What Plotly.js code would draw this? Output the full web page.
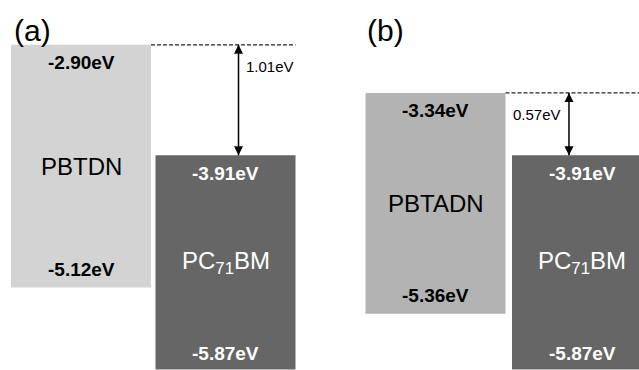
<!DOCTYPE html>
<html>
<head>
<meta charset="utf-8">
<script src="https://cdn.plot.ly/plotly-3.0.1.min.js"></script>
<style>html,body{margin:0;padding:0;background:#fff;}#chart{width:639px;height:370px;}</style>
</head>
<body>
<div id="chart"></div>
<script>
// ---- data ----
const panelLabels = ["(a)", "(b)"];
const donorNames = ["PBTDN", "PBTADN"];
const donorLUMO = [-2.90, -3.34];
const donorHOMO = [-5.12, -5.36];
const acceptorName = "PC<sub>71</sub>BM";
const acceptorLUMO = [-3.91, -3.91];
const acceptorHOMO = [-5.87, -5.87];

// ---- styles ----
const donorColors = ["#d3d3d3", "#b3b3b3"];
const acceptorColor = "#666666";
const FONT = "Liberation Sans, Arial, sans-serif";
const panels = [
  {xa: "x", ya: "y", domain: [8.75/639, 297.75/639], range: [-0.5, 1.5], width: 140/144.5, arrowX: 1.09, gapSide: "right"},
  {xa: "x2", ya: "y2", domain: [362.25/639, 1], range: [-0.5, 1.389], width: 140/146.5, arrowX: 0.911, gapSide: "left"}
];

const traces = [];
const annotations = [];
const fmt = v => v.toFixed(2) + "eV";

panels.forEach((p, i) => {
  traces.push({
    type: "bar", xaxis: p.xa, yaxis: p.ya,
    x: [0, 1],
    y: [donorLUMO[i] - donorHOMO[i], acceptorLUMO[i] - acceptorHOMO[i]],
    base: [donorHOMO[i], acceptorHOMO[i]],
    width: [p.width, p.width],
    marker: {color: [donorColors[i], acceptorColor], line: {width: 0}},
    hoverinfo: "skip", showlegend: false
  });
  // dashed level line from donor LUMO
  traces.push({
    type: "scatter", mode: "lines", xaxis: p.xa, yaxis: p.ya,
    x: [p.width / 2, 1 + p.width / 2],
    y: [donorLUMO[i], donorLUMO[i]],
    line: {color: "#222222", width: 1.2, dash: "4px,2px"},
    hoverinfo: "skip", showlegend: false
  });
  // double-headed arrow between LUMO levels
  traces.push({
    type: "scatter", mode: "lines+markers", xaxis: p.xa, yaxis: p.ya,
    x: [p.arrowX, p.arrowX],
    y: [donorLUMO[i], acceptorLUMO[i]],
    line: {color: "#000", width: 1.5},
    marker: {symbol: ["arrow-up", "arrow-down"], size: 9, color: "#000", line: {width: 0}},
    cliponaxis: false,
    hoverinfo: "skip", showlegend: false
  });
  const base = {xref: p.xa, yref: p.ya, showarrow: false};
  const dark = {family: FONT, size: 19, color: "#000"};
  const light = {family: FONT, size: 19, color: "#fff"};
  annotations.push(Object.assign({}, base, {x: 0, y: donorLUMO[i], yshift: -18, text: "<b>" + fmt(donorLUMO[i]) + "</b>", font: dark}));
  annotations.push(Object.assign({}, base, {x: 0, y: donorHOMO[i], yshift: 18, text: "<b>" + fmt(donorHOMO[i]) + "</b>", font: dark}));
  annotations.push(Object.assign({}, base, {x: 0, y: (donorLUMO[i] + donorHOMO[i]) / 2, text: donorNames[i], font: {family: FONT, size: 24, color: "#000"}}));
  annotations.push(Object.assign({}, base, {x: 1, y: acceptorLUMO[i], yshift: -18, text: "<b>" + fmt(acceptorLUMO[i]) + "</b>", font: light}));
  annotations.push(Object.assign({}, base, {x: 1, y: acceptorHOMO[i], yshift: 16, text: "<b>" + fmt(acceptorHOMO[i]) + "</b>", font: light}));
  annotations.push(Object.assign({}, base, {x: 1, y: (acceptorLUMO[i] + acceptorHOMO[i]) / 2, text: acceptorName, font: {family: FONT, size: 24, color: "#fff"}}));
  annotations.push(Object.assign({}, base, {
    x: p.arrowX, y: donorLUMO[i],
    xanchor: p.gapSide === "right" ? "left" : "right",
    xshift: p.gapSide === "right" ? 5 : -6, yshift: -22,
    text: fmt(donorLUMO[i] - acceptorLUMO[i]),
    font: {family: FONT, size: 15, color: "#000"}
  }));
  annotations.push({
    xref: "paper", yref: "paper", x: p.domain[0] + 3/639, y: 1 - 12/370,
    xanchor: "left", yanchor: "top", showarrow: false,
    text: panelLabels[i], font: {family: FONT, size: 30, color: "#000"}
  });
});

const yr = [-5.875, -2.49];
const layout = {
  width: 639, height: 370,
  margin: {l: 0, r: 0, t: 0, b: 0, pad: 0},
  paper_bgcolor: "#fff", plot_bgcolor: "#fff",
  barmode: "overlay",
  xaxis: {domain: panels[0].domain, range: panels[0].range, visible: false, fixedrange: true},
  yaxis: {range: yr, visible: false, fixedrange: true},
  xaxis2: {domain: panels[1].domain, range: panels[1].range, visible: false, anchor: "y2", fixedrange: true},
  yaxis2: {range: yr, visible: false, anchor: "x2", fixedrange: true},
  annotations: annotations,
  showlegend: false
};
Plotly.newPlot("chart", traces, layout, {displayModeBar: false, staticPlot: true});
</script>
</body>
</html>
